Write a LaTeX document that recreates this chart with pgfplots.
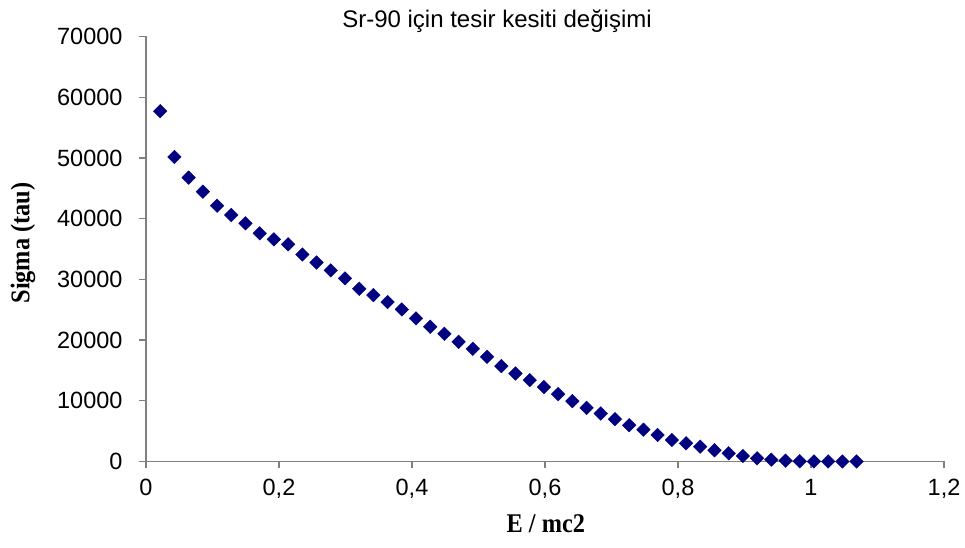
\documentclass[border=0pt]{standalone}
\usepackage{fontspec}
\setmainfont{Liberation Sans}
\newfontfamily\labelfont[FakeStretch=0.9]{Liberation Serif}
\usepackage{pgfplots}
\pgfplotsset{compat=1.18}
\definecolor{navy}{HTML}{000080}
\definecolor{axisgray}{HTML}{808080}

\begin{document}
\begin{tikzpicture}[x=1bp,y=1bp]
\path[use as bounding box] (0,0) rectangle (965,548);
\begin{axis}[
  at={(146bp,86.5bp)}, anchor=south west,
  scale only axis, width=798bp, height=425bp,
  xmin=0, xmax=1.2, ymin=0, ymax=70000,
  xtick={0,0.2,0.4,0.6,0.8,1,1.2},
  ytick={0,10000,20000,30000,40000,50000,60000,70000},
  scaled y ticks=false,
  axis x line=bottom, axis y line=left,
  axis line style={-, axisgray, line width=1.2bp},
  tick align=outside, major tick length=7bp,
  tick style={axisgray, line width=1.2bp},
  /pgf/number format/assume math mode=true,
  xticklabel style={/pgf/number format/use comma, /pgf/number format/fixed, /pgf/number format/precision=1, yshift=-7bp},
  yticklabel style={/pgf/number format/fixed, /pgf/number format/1000 sep={}, xshift=-13bp},
  ticklabel style={font=\fontsize{23.5bp}{26bp}\selectfont, text=black},
  xlabel={E / mc2},
  ylabel={Sigma (tau)},
  label style={font=\labelfont\bfseries\fontsize{27bp}{30bp}\selectfont},
  x label style={at={(axis description cs:0.501,-0.168)}, anchor=base},
  y label style={at={(axis description cs:-0.154,0.514)}, anchor=center},
  clip=false,
]
\addplot[only marks, mark=square*, mark size=4.8bp,
  mark options={rotate=45, fill=navy, draw=navy}] table {
x y
0.0214 57700
0.0427 50160
0.0641 46750
0.0855 44440
0.1069 42130
0.1282 40600
0.1496 39230
0.1710 37580
0.1923 36590
0.2137 35770
0.2351 34090
0.2564 32770
0.2778 31480
0.2992 30160
0.3206 28450
0.3419 27410
0.3633 26260
0.3847 25050
0.4060 23570
0.4274 22190
0.4488 21030
0.4701 19710
0.4915 18560
0.5129 17240
0.5343 15710
0.5556 14500
0.5770 13400
0.5984 12250
0.6197 11090
0.6411 9940
0.6625 8830
0.6838 7910
0.7052 6970
0.7266 5980
0.7480 5240
0.7693 4370
0.7907 3540
0.8121 3000
0.8334 2440
0.8548 1850
0.8762 1350
0.8975 900
0.9189 530
0.9403 300
0.9617 130
0.9830 40
1.0044 10
1.0258 3
1.0471 1
1.0685 0
};
\end{axis}
\node[anchor=base, font=\fontsize{24bp}{28bp}\selectfont] at (497,520) {Sr-90 için tesir kesiti değişimi};
\end{tikzpicture}
\end{document}
